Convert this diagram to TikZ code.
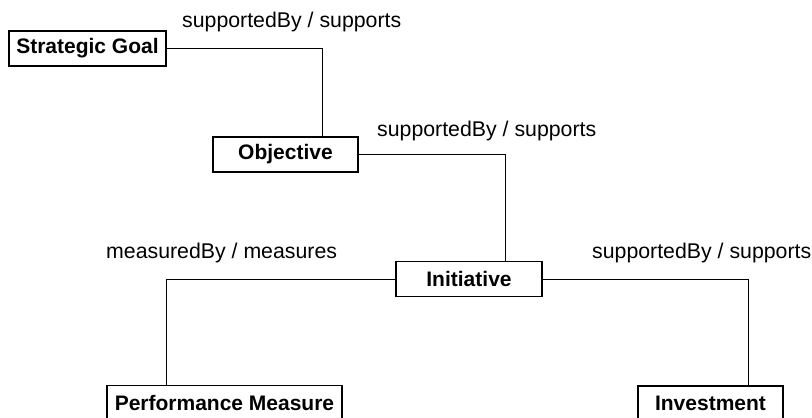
\documentclass[tikz,border=0pt]{standalone}
\usepackage{fontspec}
\setmainfont{Liberation Sans}
\begin{document}
\begin{tikzpicture}[x=1pt,y=-1pt,
  entity/.style={draw=black,line width=1.4pt,fill=white,inner sep=0pt,
    minimum height=35pt,font=\fontsize{21}{25}\selectfont\bfseries},
  link/.style={draw=black,line width=1pt},
  role/.style={anchor=base west,inner sep=0pt,font=\fontsize{21.3}{25}\selectfont}]
  \useasboundingbox (0,0) rectangle (812,418);
  \clip (0,0) rectangle (812,418);

  % entity boxes
  \node[entity,minimum width=157pt] (sg)  at (87.5,48.5)  {Strategic Goal};
  \node[entity,minimum width=145pt] (obj) at (285.5,154.5) {Objective};
  \node[entity,minimum width=146pt] (ini) at (469,279)    {Initiative};
  \node[entity,minimum width=235pt] (pm)  at (224.5,403)  {Performance Measure};
  \node[entity,minimum width=145pt] (inv) at (710.5,403.5) {Investment};

  % relationship connectors
  \draw[link] (sg.east)  -| ([xshift=36.5pt]obj.north);
  \draw[link] (obj.east) -| ([xshift=36pt]ini.north);
  \draw[link] (ini.east) -| ([xshift=37.5pt]inv.north);
  \draw[link] (ini.west) -| ([xshift=-58.5pt]pm.north);

  % role labels
  \node[role] (r1) at (182,27)  {supportedBy / supports};
  \node[role] (r2) at (377,136) {supportedBy / supports};
  \node[role] (r3) at (106,258) {measuredBy / measures};
  \node[role] (r4) at (592,258) {supportedBy / supports};
\end{tikzpicture}
\end{document}
